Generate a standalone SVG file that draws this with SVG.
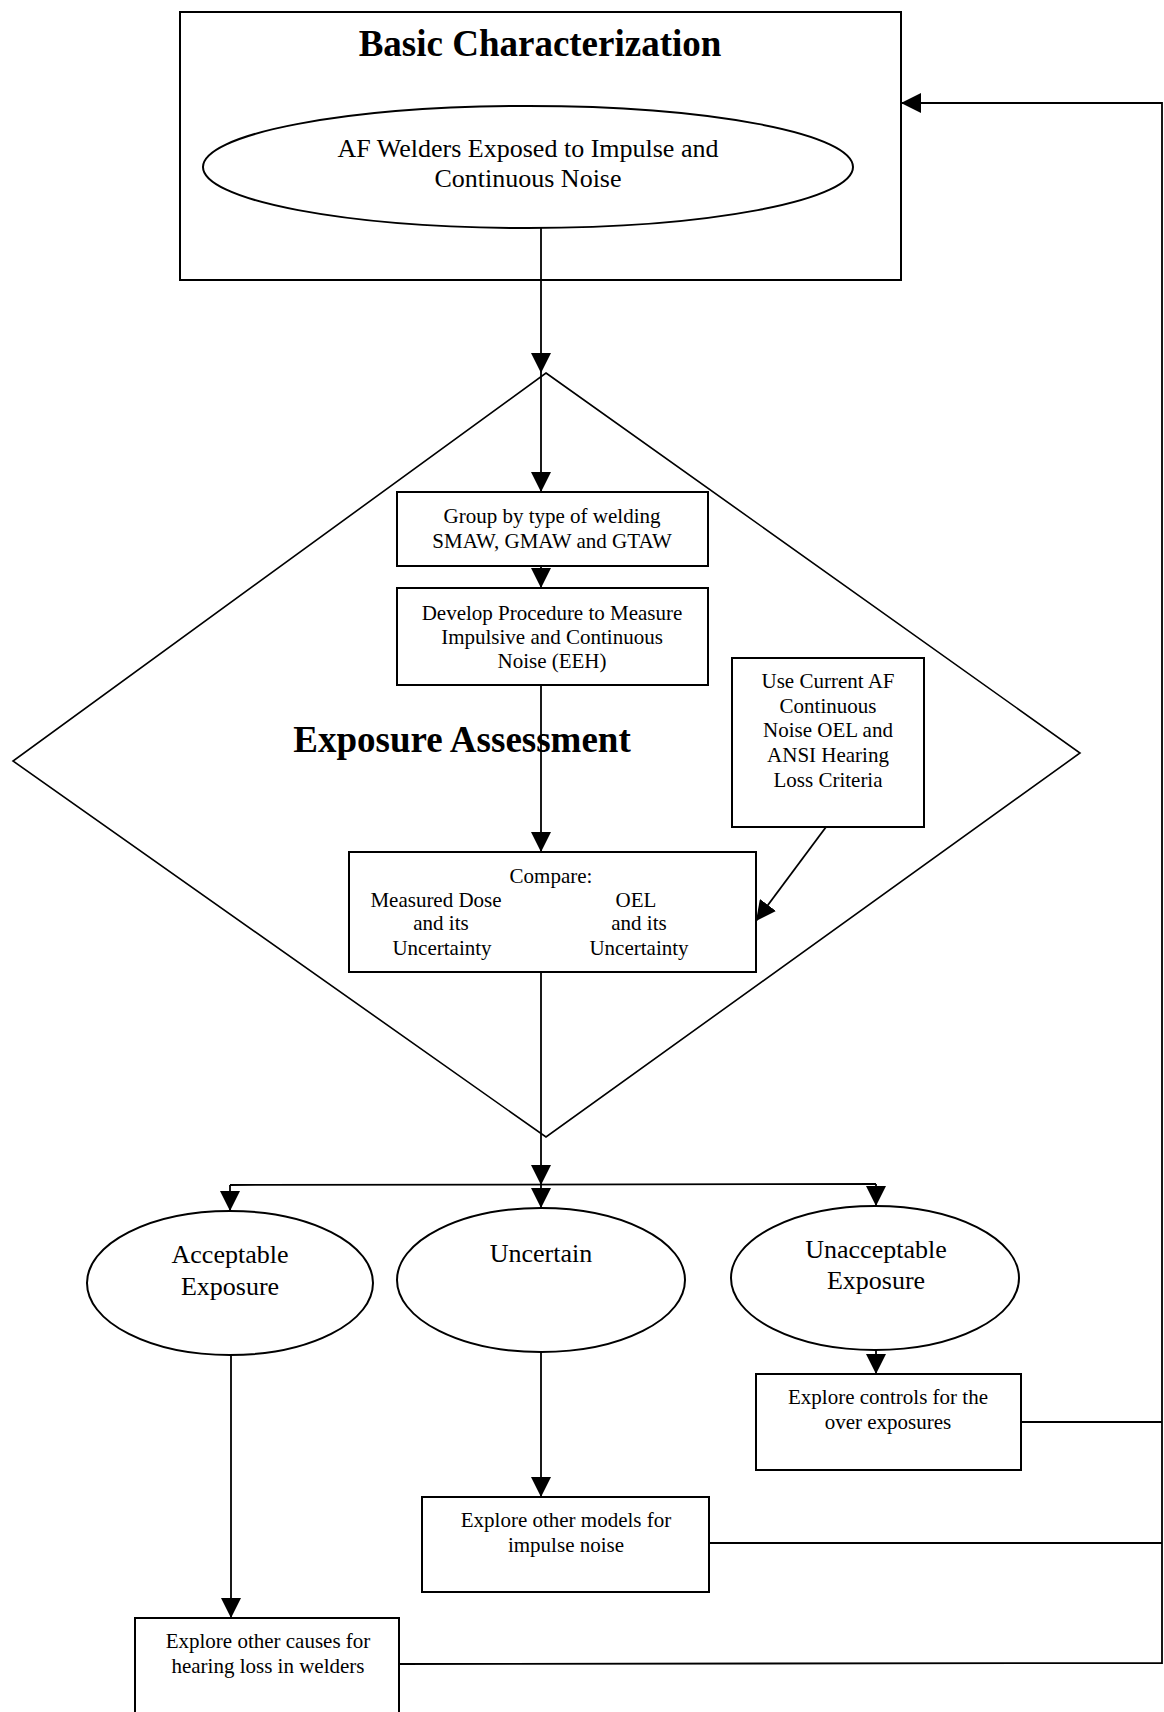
<svg xmlns="http://www.w3.org/2000/svg" width="1164" height="1712" viewBox="0 0 1164 1712">
<style>
  text { font-family: "Liberation Serif", "Times New Roman", serif; fill: #000; text-anchor: middle; }
  .t { font-size: 21px; }
  .e { font-size: 26px; }
  .h { font-size: 37px; font-weight: bold; }
  .box { fill: #fff; stroke: #000; stroke-width: 2; }
  .dia { fill: none; stroke: #000; stroke-width: 1.6; }
  .c { fill: none; stroke: #000; stroke-width: 1.8; }
  .a { marker-end: url(#arr); }
</style>
<defs>
  <marker id="arr" viewBox="0 0 20 20" refX="20" refY="10" markerWidth="20" markerHeight="20" markerUnits="userSpaceOnUse" orient="auto">
    <path d="M0,0 L20,10 L0,20 z" fill="#000"/>
  </marker>
</defs>
<rect width="1164" height="1712" fill="#fff"/>

<g id="exposure-assessment">
  <polygon class="dia" points="546,373 1080,753 546,1137 13,761"/>
  <text class="h" x="462" y="752">Exposure Assessment</text>
</g>

<g id="basic-characterization">
  <rect class="box" x="180" y="12" width="721" height="268"/>
  <text class="h" x="540" y="56">Basic Characterization</text>
</g>

<g id="connectors">
  <line class="c a" x1="541" y1="228" x2="541" y2="373"/>
  <line class="c a" x1="541" y1="373" x2="541" y2="492"/>
  <line class="c a" x1="541" y1="566" x2="541" y2="588"/>
  <line class="c a" x1="541" y1="685" x2="541" y2="852"/>
  <line class="c a" x1="826" y1="827" x2="756" y2="921"/>
  <line class="c a" x1="541" y1="972" x2="541" y2="1185"/>
  <line class="c" x1="230" y1="1185" x2="876" y2="1184"/>
  <line class="c a" x1="230" y1="1185" x2="230" y2="1211"/>
  <line class="c a" x1="541" y1="1185" x2="541" y2="1208"/>
  <line class="c a" x1="876" y1="1184" x2="876" y2="1206"/>
  <line class="c a" x1="876" y1="1350" x2="876" y2="1374"/>
  <line class="c a" x1="541" y1="1353" x2="541" y2="1497"/>
  <line class="c a" x1="231" y1="1355" x2="231" y2="1618"/>
  <line class="c" x1="1021" y1="1422" x2="1162" y2="1422"/>
  <line class="c" x1="709" y1="1543" x2="1162" y2="1543"/>
  <polyline class="c a" points="399,1664 1162,1663 1162,103 901,103"/>
</g>

<g id="af-welders">
  <ellipse class="box" cx="528" cy="167" rx="325" ry="61"/>
  <text class="e" x="528" y="157">AF Welders Exposed to Impulse and</text>
  <text class="e" x="528" y="187">Continuous Noise</text>
</g>

<g id="group-by-type">
  <rect class="box" x="397" y="492" width="311" height="74"/>
  <text class="t" x="552" y="523">Group by type of welding</text>
  <text class="t" x="552" y="548">SMAW, GMAW and GTAW</text>
</g>

<g id="develop-procedure">
  <rect class="box" x="397" y="588" width="311" height="97"/>
  <text class="t" x="552" y="620">Develop Procedure to Measure</text>
  <text class="t" x="552" y="644">Impulsive and Continuous</text>
  <text class="t" x="552" y="668">Noise (EEH)</text>
</g>

<g id="use-current">
  <rect class="box" x="732" y="658" width="192" height="169"/>
  <text class="t" x="828" y="688">Use Current AF</text>
  <text class="t" x="828" y="713">Continuous</text>
  <text class="t" x="828" y="737">Noise OEL and</text>
  <text class="t" x="828" y="762">ANSI Hearing</text>
  <text class="t" x="828" y="787">Loss Criteria</text>
</g>

<g id="compare">
  <rect class="box" x="349" y="852" width="407" height="120"/>
  <text class="t" x="551" y="883">Compare:</text>
  <text class="t" x="436" y="907">Measured Dose</text>
  <text class="t" x="441" y="930">and its</text>
  <text class="t" x="442" y="955">Uncertainty</text>
  <text class="t" x="636" y="907">OEL</text>
  <text class="t" x="639" y="930">and its</text>
  <text class="t" x="639" y="955">Uncertainty</text>
</g>

<g id="acceptable">
  <ellipse class="box" cx="230" cy="1283" rx="143" ry="72"/>
  <text class="e" x="230" y="1263">Acceptable</text>
  <text class="e" x="230" y="1295">Exposure</text>
</g>

<g id="uncertain">
  <ellipse class="box" cx="541" cy="1280" rx="144" ry="72"/>
  <text class="e" x="541" y="1262">Uncertain</text>
</g>

<g id="unacceptable">
  <ellipse class="box" cx="875" cy="1278" rx="144" ry="72"/>
  <text class="e" x="876" y="1258">Unacceptable</text>
  <text class="e" x="876" y="1289">Exposure</text>
</g>

<g id="explore-controls">
  <rect class="box" x="756" y="1374" width="265" height="96"/>
  <text class="t" x="888" y="1404">Explore controls for the</text>
  <text class="t" x="888" y="1429">over exposures</text>
</g>

<g id="explore-models">
  <rect class="box" x="422" y="1497" width="287" height="95"/>
  <text class="t" x="566" y="1527">Explore other models for</text>
  <text class="t" x="566" y="1552">impulse noise</text>
</g>

<g id="explore-causes">
  <rect class="box" x="135" y="1618" width="264" height="110"/>
  <text class="t" x="268" y="1648">Explore other causes for</text>
  <text class="t" x="268" y="1673">hearing loss in welders</text>
</g>
</svg>
